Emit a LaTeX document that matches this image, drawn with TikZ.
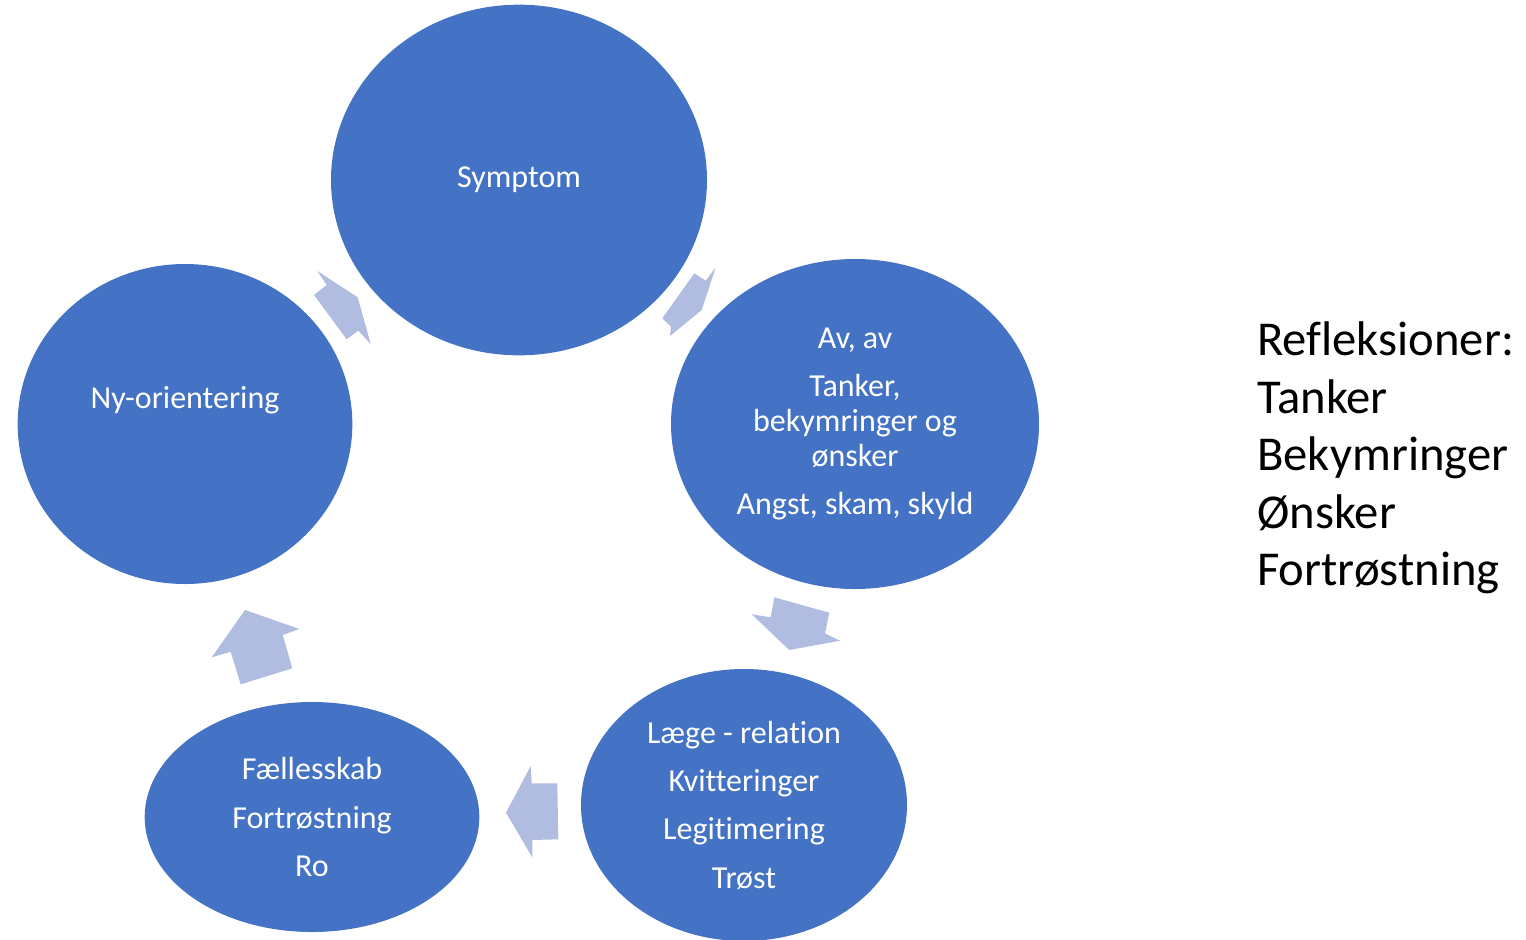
\documentclass[tikz,border=0pt]{standalone}
\usepackage{fontspec}
\setmainfont{Carlito}[Ligatures=NoCommon]
\usetikzlibrary{shapes.geometric}

\definecolor{cirkelblaa}{HTML}{4472C4}
\definecolor{pilblaa}{HTML}{B0BDE0}

\tikzset{
  cirkel/.style={ellipse, fill=cirkelblaa, text=white, inner sep=0pt, align=center,
                 font=\fontsize{24}{26.25}\selectfont},
  pil/.style={fill=pilblaa},
}

\begin{document}
\begin{tikzpicture}[x=0.75pt, y=-0.75pt]
            \useasboundingbox (0,0) rectangle (1526,939);

            % Cirklerne i kredsløbet
            \node[cirkel, minimum width=282pt, minimum height=263pt] (symptom) at (519,180) {Symptom};
            \node[cirkel, minimum width=276pt, minimum height=247.5pt] (tanker) at (855,424)
                {Av, av\\[10pt] Tanker,\\ bekymringer og\\ ønsker\\[10pt] Angst, skam, skyld};
            \node[cirkel, minimum width=244.5pt, minimum height=204pt] (laege) at (744,805)
                {Læge - relation\\[10pt] Kvitteringer\\[10pt] Legitimering\\[10pt] Trøst};
            \node[cirkel, minimum width=251pt, minimum height=172.5pt] (faelles) at (312,817)
                {Fællesskab\\[10pt] Fortrøstning\\[10pt] Ro};
            \node[cirkel, minimum width=251pt, minimum height=240pt] (nyorient) at (185,424) {};
            \node[text=white, font=\fontsize{24}{26.25}\selectfont] (nyorienttekst) at (185,400) {Ny-orientering};

            % Pile mellem cirklerne (med uret)
            \fill[pil] (694.3,273.3) -- (705.7,280.7) -- (715.7,267.3) -- (701.7,310)
                -- (670,336) -- (671,326.7) -- (662.3,318.3) -- cycle;
            \fill[pil] (774.3,597.3) -- (770.7,617.3) -- (751.7,614.3) -- (789.3,650)
                -- (840,640.7) -- (825,633.3) -- (829.3,612.7) -- cycle;
            \fill[pil] (557.3,783.3) -- (531.7,783.3) -- (530.7,766) -- (506,812.7)
                -- (532.3,857.3) -- (532.3,840) -- (558.3,839.3) -- cycle;
            \fill[pil] (292.3,668.3) -- (282.7,635) -- (299.3,629) -- (245,610)
                -- (211.7,657.3) -- (230.7,651.7) -- (240.7,684.3) -- cycle;
            \fill[pil] (314,295) -- (326.7,285) -- (317.3,271) -- (357.7,297.3)
                -- (370.7,344) -- (358.3,330.7) -- (346.7,339.3) -- cycle;

            % Refleksioner til højre
            \node[anchor=west, align=left, inner sep=0pt, font=\fontsize{36.5}{43.1}\selectfont] (refleksioner) at (1257,458)
                {Refleksioner:\\ Tanker\\ Bekymringer\\ Ønsker\\ Fortrøstning};
        \end{tikzpicture}
\end{document}
